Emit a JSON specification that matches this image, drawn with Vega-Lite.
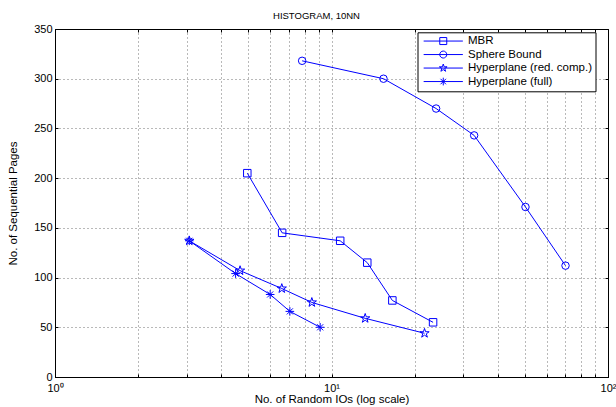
{
  "$schema": "https://vega.github.io/schema/vega-lite/v6.json",
  "autosize": {"type": "none"},
  "padding": {"left": 55, "top": 29, "right": 8, "bottom": 30},
  "width": 553,
  "height": 348,
  "background": "white",
  "config": {
    "font": "Liberation Sans",
    "view": {"stroke": "black", "strokeWidth": 1},
    "axis": {"labelFont": "Liberation Sans", "labelFontSize": 11, "labelColor": "black", "titleFont": "Liberation Sans", "titleFontSize": 11.5, "titleFontWeight": "normal", "titleColor": "black", "tickColor": "black", "domainColor": "black", "gridColor": "#000000", "gridOpacity": 0.55, "gridDash": [1, 3], "gridWidth": 1}
  },
  "title": {"text": "HISTOGRAM, 10NN", "fontSize": 9.5, "fontWeight": "normal", "font": "Liberation Sans", "color": "black", "offset": 3, "dx": -15},
  "data": {"values": [
    {"series": "MBR", "i": 1, "x": 4.96, "y": 205},
    {"series": "MBR", "i": 2, "x": 6.63, "y": 145},
    {"series": "MBR", "i": 3, "x": 10.75, "y": 137},
    {"series": "MBR", "i": 4, "x": 13.47, "y": 115},
    {"series": "MBR", "i": 5, "x": 16.6, "y": 77},
    {"series": "MBR", "i": 6, "x": 23.3, "y": 55},
    {"series": "Sphere Bound", "i": 1, "x": 7.83, "y": 318},
    {"series": "Sphere Bound", "i": 2, "x": 15.42, "y": 300},
    {"series": "Sphere Bound", "i": 3, "x": 23.9, "y": 270},
    {"series": "Sphere Bound", "i": 4, "x": 32.8, "y": 243},
    {"series": "Sphere Bound", "i": 5, "x": 50.3, "y": 171},
    {"series": "Sphere Bound", "i": 6, "x": 70.2, "y": 112},
    {"series": "Hyperplane (red. comp.)", "i": 1, "x": 3.06, "y": 137},
    {"series": "Hyperplane (red. comp.)", "i": 2, "x": 4.67, "y": 107},
    {"series": "Hyperplane (red. comp.)", "i": 3, "x": 6.61, "y": 89},
    {"series": "Hyperplane (red. comp.)", "i": 4, "x": 8.49, "y": 75},
    {"series": "Hyperplane (red. comp.)", "i": 5, "x": 13.24, "y": 59},
    {"series": "Hyperplane (red. comp.)", "i": 6, "x": 21.7, "y": 44},
    {"series": "Hyperplane (full)", "i": 1, "x": 3.06, "y": 137},
    {"series": "Hyperplane (full)", "i": 2, "x": 4.5, "y": 104},
    {"series": "Hyperplane (full)", "i": 3, "x": 6.0, "y": 83},
    {"series": "Hyperplane (full)", "i": 4, "x": 7.07, "y": 66},
    {"series": "Hyperplane (full)", "i": 5, "x": 9.1, "y": 50}
  ]},
  "resolve": {"axis": {"x": "independent", "y": "independent"}, "scale": {"shape": "independent"}, "legend": {"shape": "independent"}},
  "layer": [
    {
      "mark": {"type": "line", "color": "#0000ff", "strokeWidth": 1},
      "encoding": {
        "x": {"field": "x", "type": "quantitative",
          "scale": {"type": "log", "domain": [1, 100], "nice": false},
          "axis": {"orient": "bottom", "title": "No. of Random IOs (log scale)", "values": [1,2,3,4,5,6,7,8,9,10,20,30,40,50,60,70,80,90,100],
            "labelExpr": "datum.value == 1 ? '10⁰' : datum.value == 10 ? '10¹' : datum.value == 100 ? '10²' : ''",
            "labelOverlap": false, "labelFlush": false, "labelBound": false, "tickSize": -3, "labelPadding": 8, "titlePadding": 0, "grid": true}},
        "y": {"field": "y", "type": "quantitative",
          "scale": {"domain": [0, 350], "nice": false},
          "axis": {"orient": "left", "title": "No. of Sequential Pages", "values": [0,50,100,150,200,250,300,350],
            "tickSize": -3, "labelPadding": 6, "titlePadding": 15, "grid": true}},
        "detail": {"field": "series"},
        "order": {"field": "i", "type": "quantitative"}
      }
    },
    {
      "mark": {"type": "point", "filled": false, "color": "#0000ff", "strokeWidth": 1, "size": 56, "opacity": 1},
      "encoding": {
        "x": {"field": "x", "type": "quantitative",
          "scale": {"type": "log", "domain": [1, 100], "nice": false},
          "axis": {"orient": "top", "title": null, "values": [1,2,3,4,5,6,7,8,9,10,20,30,40,50,60,70,80,90,100], "labels": false, "grid": false, "domain": false, "tickSize": -3}},
        "y": {"field": "y", "type": "quantitative",
          "scale": {"domain": [0, 350], "nice": false},
          "axis": {"orient": "right", "title": null, "values": [0,50,100,150,200,250,300,350], "labels": false, "grid": false, "domain": false, "tickSize": -3}},
        "shape": {"field": "series", "type": "nominal",
          "scale": {"domain": ["MBR", "Sphere Bound", "Hyperplane (red. comp.)", "Hyperplane (full)"],
            "range": ["square", "circle", "M0,-1.3L0.292,-0.402L1.236,-0.402L0.472,0.153L0.764,1.052L0,0.497L-0.764,1.052L-0.472,0.153L-1.236,-0.402L-0.292,-0.402Z", "M0,-1.15L0,1.15M-1.15,0L1.15,0M-0.81,-0.81L0.81,0.81M-0.81,0.81L0.81,-0.81"]},
          "legend": null
        }
      }
    },
    {
      "transform": [{"filter": "false"}],
      "mark": {"type": "point", "filled": false, "color": "#0000ff", "strokeWidth": 1, "size": 49, "opacity": 0},
      "encoding": {
        "shape": {"field": "series", "type": "nominal",
          "scale": {"domain": ["MBR", "Sphere Bound", "Hyperplane (red. comp.)", "Hyperplane (full)"],
            "range": [
              "M-5.6,0L5.6,0M-1,-1L1,-1L1,1L-1,1Z",
              "M-5.6,0L5.6,0M1,0A1,1,0,1,1,-1,0A1,1,0,1,1,1,0",
              "M-5.6,0L5.6,0M0,-1.15L0.258,-0.355L1.094,-0.355L0.418,0.135L0.676,0.93L0,0.44L-0.676,0.93L-0.418,0.135L-1.094,-0.355L-0.258,-0.355Z",
              "M-5.6,0L5.6,0M0,-1.1L0,1.1M-0.78,-0.78L0.78,0.78M-0.78,0.78L0.78,-0.78"]},
          "legend": {"orient": "none", "legendX": 362.5, "legendY": 3.3, "title": null,
            "strokeColor": "black", "fillColor": "white", "padding": 3, "cornerRadius": 0,
            "labelFont": "Liberation Sans", "labelFontSize": 11.5, "labelColor": "black", "labelLimit": 300,
            "symbolStrokeColor": "#0000ff", "symbolFillColor": "transparent", "symbolStrokeWidth": 1, "symbolSize": 49, "symbolOpacity": 1,
            "symbolOffset": 17, "labelOffset": 19, "rowPadding": 0.5}
        }
      }
    }
  ]
}
